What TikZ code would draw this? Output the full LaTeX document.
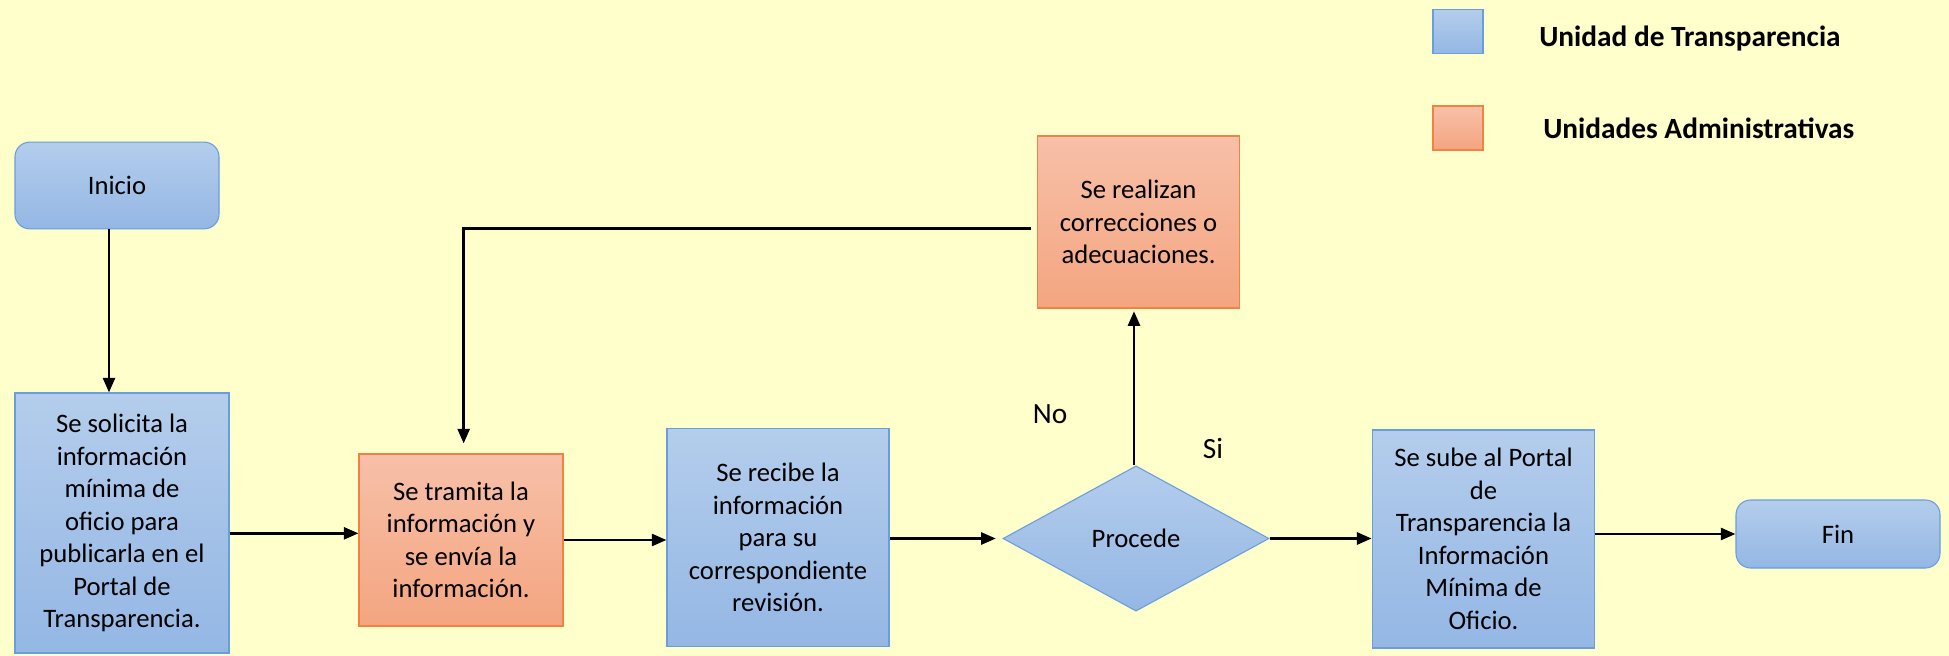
\documentclass[tikz,border=0pt]{standalone}
\usepackage{fontspec}
\setmainfont{Carlito}
\usetikzlibrary{shapes.geometric,arrows.meta}

\definecolor{fondo}{RGB}{255,255,204}
\definecolor{azularriba}{RGB}{180,205,236}
\definecolor{azulabajo}{RGB}{148,183,228}
\definecolor{azulborde}{RGB}{104,158,220}
\definecolor{naranjaarriba}{RGB}{247,192,168}
\definecolor{naranjaabajo}{RGB}{244,165,128}
\definecolor{naranjaborde}{RGB}{241,130,68}

\begin{document}
\begin{tikzpicture}[x=0.75pt, y=-0.75pt,
    texto/.style={font=\fontsize{20}{24.4}\selectfont, align=center, text=black, inner sep=0pt},
    azul/.style={texto, draw=azulborde, line width=0.8pt, top color=azularriba, bottom color=azulabajo},
    naranja/.style={texto, draw=naranjaborde, line width=0.8pt, top color=naranjaarriba, bottom color=naranjaabajo},
    flecha/.style={line width=2pt, -{Triangle[length=11pt,width=9pt]}}]

    % Fondo
    \useasboundingbox (0,0) rectangle (1949,656);
    \fill[fondo] (0,0) rectangle (1949,656);

    % Leyenda
    \node[azul, minimum width=37.5pt, minimum height=33pt] (leyazul) at (1458,31.5) {};
    \node[naranja, minimum width=37.5pt, minimum height=33pt] (leynaranja) at (1458,128) {};
    \node[texto, anchor=west, font=\fontsize{22}{26}\selectfont\bfseries] (leyut) at (1539,39) {Unidad de Transparencia};
    \node[texto, anchor=west, font=\fontsize{22}{26}\selectfont\bfseries] (leyua) at (1543,128) {Unidades Administrativas};

    % Nodos del flujo
    \node[azul, rounded corners=11pt, minimum width=153pt, minimum height=65pt] (ini) at (117,185.5) {Inicio};
    \node[azul, minimum width=160.5pt, minimum height=195pt] (sol) at (122,523) {Se solicita la\\información\\mínima de\\oficio para\\publicarla en el\\Portal de\\Transparencia.};
    \node[naranja, minimum width=153pt, minimum height=129pt] (tram) at (461,540) {Se tramita la\\información y\\se envía la\\información.};
    \node[azul, minimum width=166.5pt, minimum height=163pt] (rec) at (778,537.5) {Se recibe la\\información\\para su\\correspondiente\\revisión.};
    \node[azul, diamond, minimum width=199.5pt, minimum height=109pt] (dia) at (1136,538.5) {Procede};
    \node[naranja, minimum width=152pt, minimum height=129pt] (corr) at (1138.5,222) {Se realizan\\correcciones o\\adecuaciones.};
    \node[azul, minimum width=167pt, minimum height=163.5pt] (sube) at (1483.5,539) {Se sube al Portal\\de\\Transparencia la\\Información\\Mínima de\\Oficio.};
    \node[azul, rounded corners=11pt, minimum width=153pt, minimum height=51pt] (fin) at (1838,534) {Fin};

    % Etiquetas de la decision
    \node[texto, font=\fontsize{22}{26}\selectfont] (no) at (1050,414) {No};
    \node[texto, font=\fontsize{22}{26}\selectfont] (si) at (1213,449) {Si};

    % Conectores
    \draw[flecha] ([xshift=-6pt]ini.south) -- ([xshift=-6pt]ini.south |- sol.north);
    \draw[flecha] ([yshift=5pt]sol.east |- tram.west) -- ([yshift=5pt]tram.west);
    \draw[flecha] (tram.east) -- (tram.east -| rec.west);
    \draw[flecha, shorten >=5pt] (rec.east |- dia.west) -- (dia.west);
    \draw[flecha, shorten >=2pt] ([xshift=-1.5pt]dia.north) -- ([xshift=-1.5pt]dia.north |- corr.south);
    \draw[flecha, shorten <=4pt, shorten >=7.5pt] ([yshift=-5pt]corr.west) -| ([xshift=2pt]tram.north);
    \draw[flecha] (dia.east) -- (dia.east -| sube.west);
    \draw[flecha] (sube.east |- fin.west) -- (fin.west);
\end{tikzpicture}
\end{document}
